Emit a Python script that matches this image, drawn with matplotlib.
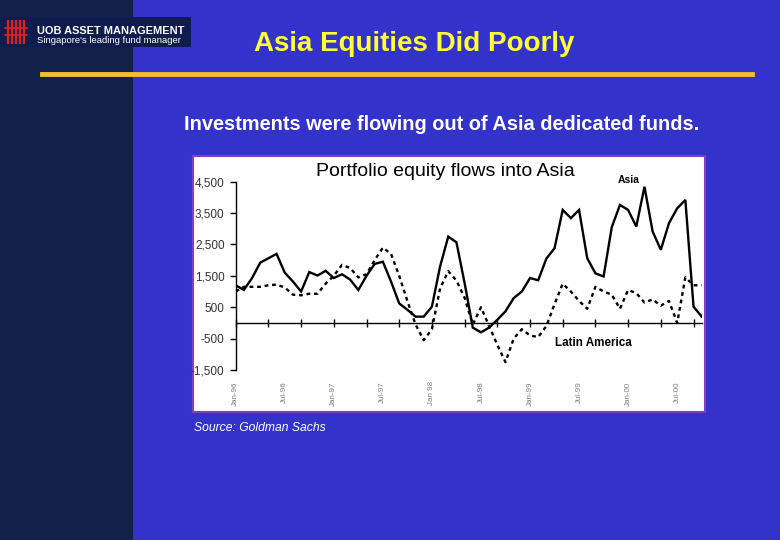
import matplotlib
matplotlib.use("Agg")
import matplotlib.pyplot as plt
from matplotlib.patches import Rectangle
from matplotlib.lines import Line2D
import matplotlib.transforms as mtransforms

plt.rcParams['font.family'] = ['Liberation Sans', 'DejaVu Sans']

# monthly flows, Jan-96 .. Oct-00 (US$ m)
months = list(range(58))
asia = [1200, 1050, 1430, 1920, 2060, 2200, 1600, 1320, 1000, 1620,
        1510, 1660, 1430, 1550, 1380, 1050, 1500, 1880, 1950, 1320,
        620, 420, 200, 200, 520, 1800, 2750, 2570, 1270, -150,
        -300, -150, 100, 370, 790, 1000, 1430, 1360, 2050, 2380,
        3600, 3340, 3600, 2060, 1580, 1480, 3050, 3760, 3600, 3070,
        4340, 2910, 2330, 3180, 3650, 3920, 520, 200]
latam = [1000, 1150, 1150, 1150, 1200, 1220, 1130, 900, 880, 930,
         930, 1250, 1500, 1850, 1750, 1450, 1550, 2000, 2400, 2200,
         1500, 700, -50, -550, -200, 1100, 1650, 1350, 800, -50,
         500, -100, -700, -1250, -500, -200, -400, -450, -100, 600,
         1250, 1000, 700, 450, 1150, 1000, 900, 450, 1050, 950,
         650, 750, 550, 700, 0, 1450, 1200, 1200]
label_months = [0, 6, 12, 18, 24, 30, 36, 42, 48, 54]
label_text = ['Jan-96', 'Jul-96', 'Jan-97', 'Jul-97', 'Jan 98',
              'Jul-98', 'Jan-99', 'Jul-99', 'Jan-00', 'Jul-00']
yticks = [-1500, -500, 500, 1500, 2500, 3500, 4500]

W, H = 780, 540
fig = plt.figure(figsize=(7.8, 5.4), dpi=100)
fig.patch.set_facecolor('#3333cc')


def fx(x):
    return x / W


def fy(y):
    return 1 - y / H


# slide decoration
fig.patches.append(Rectangle((0, 0), fx(133), 1, transform=fig.transFigure,
                             facecolor='#13204a', edgecolor='none', zorder=0))
fig.patches.append(Rectangle((0, fy(47)), fx(191), fy(17) - fy(47), transform=fig.transFigure,
                             facecolor='#0f1c4d', edgecolor='none', zorder=1))
for xv in [8, 12, 16, 20, 24]:
    fig.lines.append(Line2D([fx(xv), fx(xv)], [fy(21), fy(43)], transform=fig.transFigure,
                            color='#e02020', lw=1.6, zorder=2))
for yv in [28, 35]:
    fig.lines.append(Line2D([fx(5), fx(27)], [fy(yv), fy(yv)], transform=fig.transFigure,
                            color='#e02020', lw=1.2, zorder=2))
fig.text(fx(37), fy(31), 'UOB ASSET MANAGEMENT', color='white', fontsize=7.9,
         fontweight='bold', va='center', ha='left')
fig.text(fx(37), fy(40.5), "Singapore's leading fund manager", color='white',
         fontsize=6.8, va='center', ha='left')

fig.text(fx(414), fy(44), 'Asia Equities Did Poorly', color='#ffff33', fontsize=20,
         fontweight='bold', ha='center', va='center')
fig.lines.append(Line2D([fx(42), fx(752)], [fy(73.5), fy(73.5)], transform=fig.transFigure,
                        color='#f0c030', lw=3.5))
fig.text(fx(442), fy(125), 'Investments were flowing out of Asia dedicated funds.',
         color='white', fontsize=14.4, fontweight='bold', ha='center', va='center')

# chart frame
fig.patches.append(Rectangle((fx(193), fy(412)), fx(705) - fx(193), fy(156) - fy(412),
                             transform=fig.transFigure, facecolor='white',
                             edgecolor='#8040c0', lw=1.5, zorder=1))
fig.text(fx(445), fy(171), 'Portfolio equity flows into Asia', color='black',
         fontsize=14, ha='center', va='center')
fig.text(fx(194), fy(428), 'Source: Goldman Sachs', color='white', fontsize=8.7,
         style='italic', ha='left', va='center')

ax = fig.add_axes([fx(235.7), fy(370), fx(701.7) - fx(235.7), fy(181.7) - fy(370)])
ax.set_zorder(5)
ax.set_facecolor('none')
ax.plot(months, asia, color='black', lw=1.7, solid_joinstyle='miter')
ax.plot(months, latam, color='black', lw=1.7, dashes=(1.6, 1.6))
ax.set_xlim(0, 57)
ax.set_ylim(-1500, 4500)
ax.set_yticks(yticks)
ax.set_yticklabels(['{:,}'.format(v) for v in yticks])
ax.tick_params(axis='y', direction='out', length=4, width=1, labelsize=8.5,
               labelcolor='#333333', pad=4)
ax.spines['top'].set_visible(False)
ax.spines['right'].set_visible(False)
ax.spines['bottom'].set_position(('data', 0))
ax.spines['left'].set_linewidth(1)
ax.spines['bottom'].set_linewidth(1)
ax.set_xticks(range(0, 57, 4))
ax.tick_params(axis='x', direction='inout', length=6, width=1, labelbottom=False)

trans = mtransforms.blended_transform_factory(ax.transData, ax.transAxes)
for m, t in zip(label_months, label_text):
    ax.text(m, -0.06, t, transform=trans, rotation=90, ha='center', va='top',
            fontsize=5.8, color='#808080')

ax.text(48.1, 4550, 'Asia', fontsize=7.5, fontweight='bold', ha='center', va='center')
ax.text(43.7, -625, 'Latin America', fontsize=8.4, fontweight='bold', ha='center', va='center')

fig.savefig('out.png', dpi=100, facecolor=fig.get_facecolor())
